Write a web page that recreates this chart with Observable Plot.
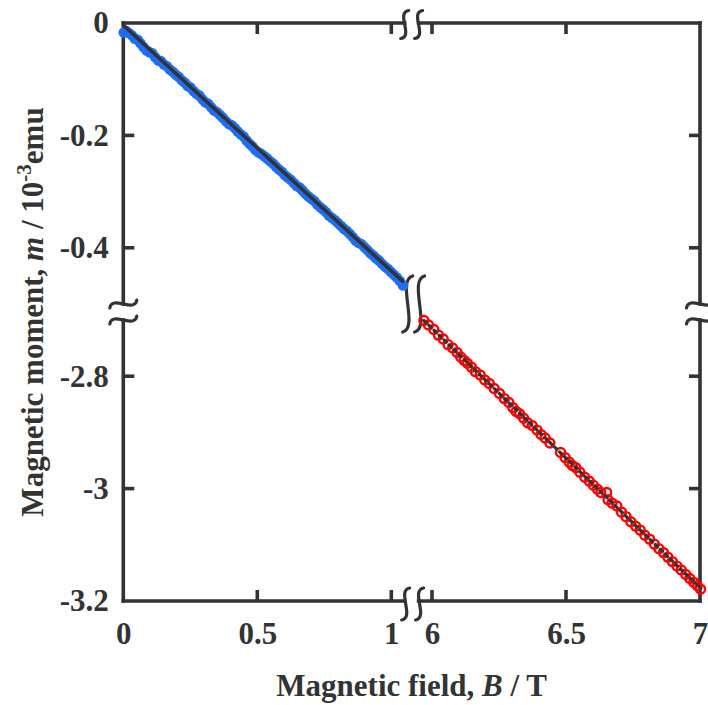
<!DOCTYPE html>
<html>
<head>
<meta charset="utf-8">
<script src="https://cdn.jsdelivr.net/npm/d3@7"></script>
<script src="https://cdn.jsdelivr.net/npm/@observablehq/plot@0.6"></script>
<style>
  html, body { margin: 0; padding: 0; background: #fff; }
  #chart { width: 708px; height: 705px; }
</style>
</head>
<body>
<div id="chart"></div>
<script>
// ---------- data ----------
const blueB = [0.000, 0.008, 0.019, 0.030, 0.041, 0.052, 0.062, 0.073, 0.085, 0.096,
               0.106, 0.117, 0.129, 0.139, 0.150, 0.161, 0.172, 0.183, 0.194, 0.205,
               0.216, 0.227, 0.238, 0.249, 0.260, 0.271, 0.282, 0.293, 0.304, 0.315,
               0.326, 0.337, 0.348, 0.359, 0.370, 0.381, 0.392, 0.403, 0.414, 0.425,
               0.436, 0.447, 0.458, 0.469, 0.480, 0.491, 0.502, 0.513, 0.524, 0.535,
               0.546, 0.557, 0.568, 0.579, 0.590, 0.601, 0.612, 0.623, 0.634, 0.645,
               0.656, 0.667, 0.678, 0.689, 0.700, 0.711, 0.722, 0.733, 0.744, 0.755,
               0.766, 0.777, 0.788, 0.799, 0.810, 0.821, 0.832, 0.843, 0.854, 0.865,
               0.876, 0.887, 0.898, 0.909, 0.920, 0.931, 0.942, 0.953, 0.964, 0.975,
               0.986, 0.997, 1.008, 1.019, 1.030, 1.042];
const blueM = [-0.016, -0.013, -0.017, -0.021, -0.027, -0.029, -0.035, -0.042, -0.048, -0.051,
               -0.053, -0.060, -0.066, -0.067, -0.073, -0.076, -0.082, -0.086, -0.091, -0.095,
               -0.101, -0.105, -0.111, -0.114, -0.120, -0.125, -0.128, -0.135, -0.140, -0.143,
               -0.149, -0.155, -0.158, -0.163, -0.168, -0.174, -0.179, -0.181, -0.186, -0.192,
               -0.197, -0.201, -0.208, -0.214, -0.219, -0.225, -0.229, -0.232, -0.236, -0.240,
               -0.245, -0.249, -0.255, -0.260, -0.264, -0.270, -0.274, -0.278, -0.284, -0.289,
               -0.292, -0.297, -0.303, -0.308, -0.312, -0.316, -0.322, -0.327, -0.331, -0.336,
               -0.342, -0.346, -0.350, -0.355, -0.360, -0.365, -0.369, -0.374, -0.380, -0.386,
               -0.390, -0.393, -0.398, -0.403, -0.409, -0.413, -0.418, -0.422, -0.428, -0.433,
               -0.437, -0.442, -0.447, -0.452, -0.458, -0.466];

const redB = [5.968, 5.985, 6.005, 6.022, 6.040, 6.058, 6.075, 6.092, 6.105, 6.118,
              6.130, 6.145, 6.160, 6.178, 6.195, 6.212, 6.230, 6.250, 6.268, 6.285,
              6.300, 6.312, 6.325, 6.340, 6.355, 6.372, 6.390, 6.405, 6.420, 6.438,
              6.478, 6.495, 6.510, 6.522, 6.535, 6.550, 6.568, 6.585, 6.600, 6.615,
              6.628, 6.650, 6.655, 6.670, 6.688, 6.705, 6.722, 6.740, 6.758, 6.775,
              6.792, 6.810, 6.828, 6.845, 6.862, 6.878, 6.895, 6.912, 6.928, 6.945,
              6.960, 6.975, 6.988, 7.000];
const redM = [-2.700, -2.708, -2.716, -2.726, -2.733, -2.743, -2.749, -2.757, -2.765, -2.771,
              -2.776, -2.783, -2.791, -2.797, -2.806, -2.812, -2.821, -2.830, -2.839, -2.846,
              -2.855, -2.862, -2.866, -2.874, -2.882, -2.887, -2.895, -2.903, -2.909, -2.918,
              -2.935, -2.944, -2.952, -2.958, -2.962, -2.970, -2.979, -2.986, -2.993, -3.000,
              -3.006, -3.006, -3.019, -3.025, -3.030, -3.041, -3.049, -3.058, -3.066, -3.073,
              -3.082, -3.089, -3.098, -3.106, -3.113, -3.121, -3.129, -3.137, -3.144, -3.152,
              -3.159, -3.166, -3.172, -3.178];

const blueFitB = [0.000, 1.040];
const blueFitM = [-0.004, -0.4585];
const redFitB = [5.968, 7.000];
const redFitM = [-2.700, -3.1766];

const xTicks = [0, 0.5, 1, 6, 6.5, 7];
const xTickLabels = ["0", "0.5", "1", "6", "6.5", "7"];
const yTicks = [0, -0.2, -0.4, -2.8, -3, -3.2];
const yTickLabels = ["0", "-0.2", "-0.4", "-2.8", "-3", "-3.2"];

const xLimits = [0, 7];
const xBreak = [1.05, 5.95];
const yLimits = [0, -3.2];
const yBreak = [-0.5, -2.7];

const xTitle = ["Magnetic field, ", "B", " / T"];
const yTitle = ["Magnetic moment, ", "m", " / 10", "-3", "emu"];

// ---------- tables ----------
const blue = blueB.map((b, i) => ({B: b, m: blueM[i]}));
const red = redB.map((b, i) => ({B: b, m: redM[i]}));
const blueFit = blueFitB.map((b, i) => ({B: b, m: blueFitM[i]}));
const redFit = redFitB.map((b, i) => ({B: b, m: redFitM[i]}));

// ---------- layout ----------
const W = 708, H = 705;
const ML = 123.3, MR = 8, MT = 23, MB = 104;
const PX = 268;   // px per tesla
const PY = 562;   // px per 10^-3 emu
const INK = "#333333";
const FONT = "'Liberation Serif', 'Times New Roman', Times, serif";

const xRange = [ML, ML + (xBreak[0] - xLimits[0]) * PX, W - MR - (xLimits[1] - xBreak[1]) * PX, W - MR];
const yRange = [MT, MT + (yLimits[0] - yBreak[0]) * PY, H - MB - (yBreak[1] - yLimits[1]) * PY, H - MB];

function vSquiggle(cx, cy, h, w) {
  const t = cy - h / 2, b = cy + h / 2;
  return `M${cx + w},${t} C${cx - w * 0.7},${t + h * 0.04} ${cx - w * 0.3},${cy - h * 0.22} ${cx},${cy} ` +
         `S${cx + w * 0.7},${b - h * 0.04} ${cx - w},${b}`;
}
function hSquiggle(cx, cy, len, a) {
  const l = cx - len / 2, r = cx + len / 2;
  return `M${l},${cy + a} C${l + len * 0.04},${cy - a * 0.7} ${cx - len * 0.22},${cy - a * 0.3} ${cx},${cy} ` +
         `S${r - len * 0.04},${cy + a * 0.7} ${r},${cy - a}`;
}

function frameMark(index, scales) {
  const {x, y} = scales;
  const g = d3.create("svg:g")
    .attr("fill", "none")
    .attr("stroke", INK)
    .attr("stroke-width", 3.6);
  const x0 = x(xLimits[0]), x1 = x(xLimits[1]);
  const y0 = y(yLimits[0]), y1 = y(yLimits[1]);
  const xa = x(xBreak[0]), xb = x(xBreak[1]);
  const ya = y(yBreak[0]), yb = y(yBreak[1]);
  const seg = (ax, ay, bx, by) => g.append("line")
    .attr("x1", ax).attr("y1", ay).attr("x2", bx).attr("y2", by)
    .attr("stroke-linecap", "square");
  for (const yy of [y0, y1]) { seg(x0, yy, xa, yy); seg(xb, yy, x1, yy); }
  for (const xx of [x0, x1]) { seg(xx, y0, xx, ya); seg(xx, yb, xx, y1); }
  const TL = 11;
  for (const t of xTicks) {
    if (t === xLimits[0] || t === xLimits[1]) continue;
    const px = x(t);
    seg(px, y0, px, y0 + TL).attr("stroke-linecap", "butt");
    seg(px, y1, px, y1 - TL).attr("stroke-linecap", "butt");
  }
  for (const t of yTicks) {
    if (t === yLimits[0] || t === yLimits[1]) continue;
    const py = y(t);
    seg(x0, py, x0 + TL, py).attr("stroke-linecap", "butt");
    seg(x1, py, x1 - TL, py).attr("stroke-linecap", "butt");
  }
  const sq = (d) => g.append("path").attr("d", d).attr("stroke-linecap", "round").attr("stroke-width", 3.2);
  for (const xx of [xa, xb]) {
    sq(vSquiggle(xx, y0 + 1.5, 28, 4));
    sq(vSquiggle(xx + 1, y1 + 3, 32, 4));
  }
  for (const yy of [ya, yb]) {
    sq(hSquiggle(x0, yy, 27, 4));
    sq(hSquiggle(x1, yy, 27, 4));
  }
  const ym = y(yBreak[0]);
  sq(vSquiggle(xa + 3, ym, 56, 5));
  sq(vSquiggle(xb + 1, ym, 56, 5));
  return g.node();
}

function titlesMark() {
  const g = d3.create("svg:g")
    .attr("fill", INK)
    .attr("font-family", FONT)
    .attr("font-weight", "bold")
    .attr("font-size", 31)
    .attr("text-anchor", "middle");
  const cx = (xRange[0] + xRange[3]) / 2;
  const cy = (yRange[0] + yRange[3]) / 2;
  const tx = g.append("text").attr("x", cx).attr("y", 696);
  tx.append("tspan").text(xTitle[0]);
  tx.append("tspan").attr("font-style", "italic").text(xTitle[1]);
  tx.append("tspan").text(xTitle[2]);
  const ty = g.append("text")
    .attr("transform", `translate(43,${cy}) rotate(-90)`);
  ty.append("tspan").text(yTitle[0]);
  ty.append("tspan").attr("font-style", "italic").text(yTitle[1]);
  ty.append("tspan").text(yTitle[2]);
  ty.append("tspan").attr("font-size", 21).attr("dy", -12).text(yTitle[3]);
  ty.append("tspan").attr("dy", 12).text(yTitle[4]);
  return g.node();
}

const chart = Plot.plot({
  width: W,
  height: H,
  marginLeft: ML, marginRight: MR, marginTop: MT, marginBottom: MB,
  style: {fontFamily: FONT, background: "#fff", overflow: "visible"},
  x: {type: "linear", domain: [xLimits[0], xBreak[0], xBreak[1], xLimits[1]], range: xRange, axis: null},
  y: {type: "linear", domain: [yLimits[0], yBreak[0], yBreak[1], yLimits[1]], range: yRange, axis: null},
  marks: [
    frameMark,
    Plot.dot(blue, {x: "B", y: "m", r: 5.3, fill: "#1f6ef5", stroke: "none"}),
    Plot.line(blueFit, {x: "B", y: "m", stroke: INK, strokeWidth: 3.6}),
    Plot.dot(red, {x: "B", y: "m", r: 4.5, fill: "none", stroke: "#ff0000", strokeWidth: 2.4}),
    Plot.line(redFit, {x: "B", y: "m", stroke: INK, strokeWidth: 3.2, strokeDasharray: "3,4"}),
    Plot.text(xTicks, {x: d => d, y: () => yLimits[1], text: (d, i) => xTickLabels[i], dy: 33,
      fontSize: 31, fontWeight: "bold", fill: INK}),
    Plot.text(yTicks, {x: () => xLimits[0], y: d => d, text: (d, i) => yTickLabels[i], dx: -15,
      textAnchor: "end", fontSize: 31, fontWeight: "bold", fill: INK}),
    titlesMark
  ]
});
document.getElementById("chart").appendChild(chart);
</script>
</body>
</html>
